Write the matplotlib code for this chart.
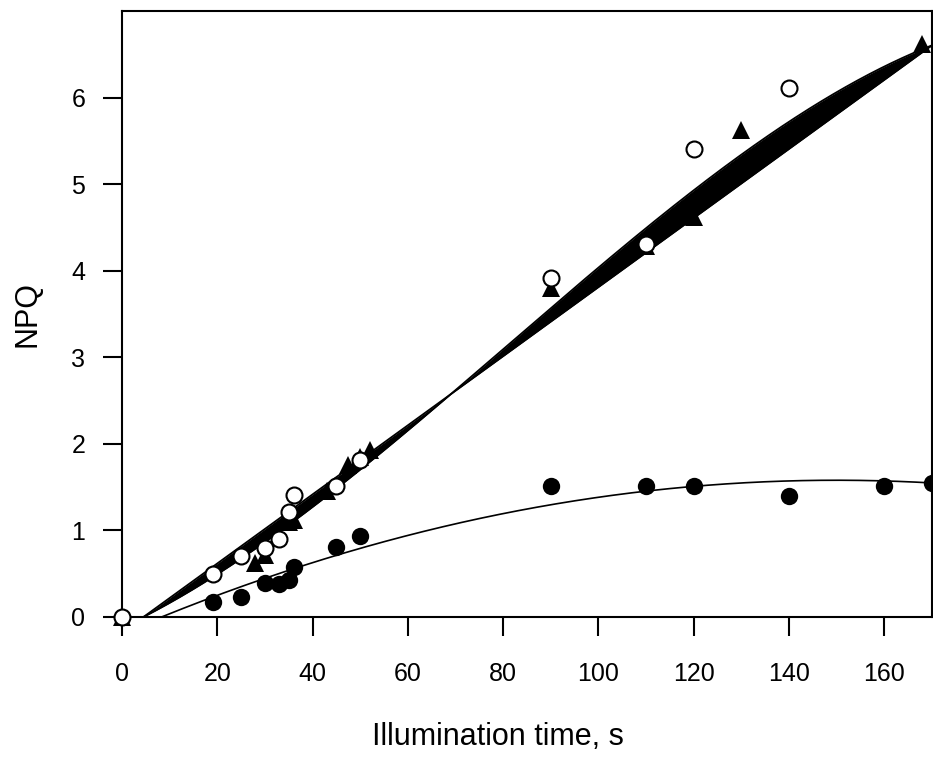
import numpy as np
import matplotlib
matplotlib.use("Agg")
import matplotlib.pyplot as plt

plt.rcParams['font.family'] = ['Liberation Sans', 'DejaVu Sans']

# ---- data ----
time_open = [0, 19, 25, 30, 33, 35, 36, 45, 50, 90, 110, 120, 140]
npq_open = [0.0, 0.5, 0.7, 0.8, 0.9, 1.21, 1.41, 1.51, 1.81, 3.92, 4.31, 5.41, 6.11]

time_tri = [0, 28, 30, 35, 36, 43, 47.5, 50, 52, 90, 110, 120, 130, 168]
npq_tri = [0.0, 0.62, 0.72, 1.1, 1.12, 1.45, 1.76, 1.85, 1.93, 3.8, 4.28, 4.62, 5.63, 6.62]

time_filled = [19, 25, 30, 33, 35, 36, 45, 50, 90, 110, 120, 140, 160, 170]
npq_filled = [0.17, 0.235, 0.39, 0.38, 0.43, 0.58, 0.81, 0.94, 1.51, 1.51, 1.51, 1.40, 1.51, 1.55]

# fitted curves (coefficients, polynomial in (t - onset), highest power first)
fit_a_onset = 4.5
fit_a_coef = [0.0399, 0.0]
fit_b_onset = 4.5
fit_b_coef = [-1.09e-6, 2.507e-4, 0.028265, 0.0]
fit_f_onset = 8.3
fit_f_coef = [-7.87e-5, 0.0223, 0.0]

xticks = [0, 20, 40, 60, 80, 100, 120, 140, 160]
yticks = [0, 1, 2, 3, 4, 5, 6]

fig = plt.figure(figsize=(9.33, 7.60), dpi=100)
ax = fig.add_axes([122/933, 1 - 617/760, 810/933, 606/760])

t = np.linspace(0, 170, 600)
ya = np.polyval(fit_a_coef, t - fit_a_onset)
yb = np.polyval(fit_b_coef, t - fit_b_onset)
yf = np.polyval(fit_f_coef, t - fit_f_onset)

ax.plot(t, yf, color='black', lw=1.2, zorder=2)
ax.plot(time_filled, npq_filled, 'o', color='black', ms=12.5, mew=0,
        zorder=3, clip_on=False)
ax.plot(time_tri, npq_tri, '^', color='black', ms=13.5, mew=0,
        zorder=3, clip_on=False)
ax.fill_between(t, ya, yb, color='black', lw=0, zorder=4)
ax.plot(t, ya, color='black', lw=1.3, zorder=4)
ax.plot(t, yb, color='black', lw=1.3, zorder=4)
ax.plot(time_open, npq_open, 'o', mfc='white', mec='black', ms=11.5, mew=1.5,
        zorder=5, clip_on=False)

ax.set_xlim(0, 170)
ax.set_ylim(0, 7)
ax.set_xticks(xticks)
ax.set_yticks(yticks)
ax.tick_params(direction='out', length=13.5, width=1.5, labelsize=18, pad=13)
ax.tick_params(axis='x', pad=19)
for s in ax.spines.values():
    s.set_linewidth(1.5)

ax.set_xlabel('Illumination time, s', fontsize=22)
ax.set_ylabel('NPQ', fontsize=22)
ax.xaxis.set_label_coords(0.464, -0.173)
ax.yaxis.set_label_coords(-0.098, 0.5)

fig.savefig('out.png', dpi=100)
